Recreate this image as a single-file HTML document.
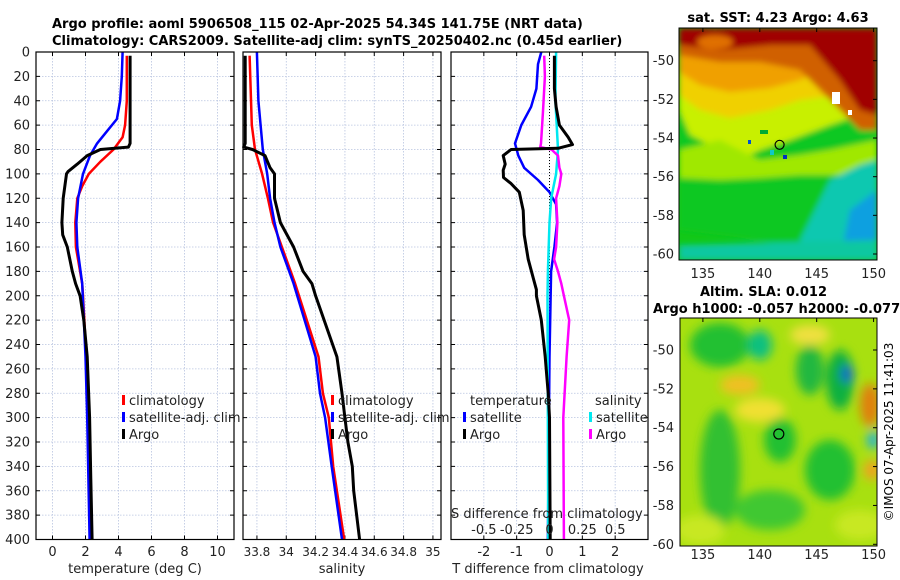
<!DOCTYPE html>
<html><head><meta charset="utf-8"><style>
html,body{margin:0;padding:0;background:#fff;}
svg{display:block;font-family:"DejaVu Sans","Liberation Sans",sans-serif;}
</style></head><body>
<svg id="fig" width="900" height="580" viewBox="0 0 900 580" xmlns="http://www.w3.org/2000/svg">
<defs>
<filter id="blur3" x="-10%" y="-10%" width="120%" height="120%"><feGaussianBlur stdDeviation="3"/></filter>
<filter id="blur5" x="-10%" y="-10%" width="120%" height="120%"><feGaussianBlur stdDeviation="5"/></filter>
<clipPath id="clipTop"><rect x="679" y="28" width="198" height="232"/></clipPath>
<clipPath id="clipBot"><rect x="680" y="318" width="197" height="228"/></clipPath>
</defs>
<text x="52" y="28" font-size="13" font-weight="bold">Argo profile: aoml 5906508_115 02-Apr-2025 54.34S 141.75E (NRT data)</text>
<text x="52" y="45" font-size="13" font-weight="bold">Climatology: CARS2009. Satellite-adj clim: synTS_20250402.nc (0.45d earlier)</text>

<!-- top map -->
<g>
<g clip-path="url(#clipTop)">
<rect x="679" y="28" width="198" height="232" fill="#12c818"/>
<g filter="url(#blur3)">
<polygon points="679,28 877,28 877,260 840,260 800,250 760,240 679,230" fill="#10c820"/>
<polygon points="679,110 690,135 720,150 740,160 760,150 790,140 830,125 860,115 877,105 877,28 679,28" fill="#c8f000"/>
<polygon points="679,95 700,110 730,118 770,110 800,100 840,95 877,90 877,28 679,28" fill="#f0d000"/>
<polygon points="679,72 700,85 730,92 770,88 800,80 830,65 877,55 877,28 679,28" fill="#f0a000"/>
<polygon points="679,55 720,62 760,62 800,70 830,100 860,130 877,130 877,28 679,28" fill="#d06000"/>
<polygon points="679,45 720,50 770,45 810,45 840,80 860,110 877,115 877,28 679,28" fill="#a00000"/>
<ellipse cx="715" cy="42" rx="18" ry="7" fill="#e07000"/>
<polygon points="679,150 720,140 760,160 800,155 830,150 877,140 877,170 840,175 800,175 760,178 720,180 679,178" fill="#a0e800"/>
<polygon points="830,180 860,165 877,160 877,260 810,260 800,240 815,210" fill="#10c8b0"/>
<polygon points="850,210 877,190 877,260 840,260" fill="#10a0e0"/>
<polygon points="679,245 877,240 877,260 679,260" fill="#10c8a0"/>
</g>
<rect x="760" y="130" width="8" height="4" fill="#0a3" /><rect x="770" y="150" width="4" height="5" fill="#10c8c8"/>
<rect x="832" y="92" width="8" height="12" fill="#fff"/><rect x="848" y="110" width="4" height="5" fill="#fff"/>
<rect x="783" y="155" width="4" height="4" fill="#0030c0"/><rect x="748" y="140" width="3" height="4" fill="#0050d0"/>
</g>
<rect x="679" y="28" width="198" height="232" fill="none" stroke="#000" stroke-width="1"/>
<circle cx="779.6" cy="144.8" r="4.5" fill="none" stroke="#000" stroke-width="1.2"/>
</g>
<text x="778" y="22" font-size="13" font-weight="bold" text-anchor="middle">sat. SST: 4.23 Argo: 4.63</text>

<!-- bottom map -->
<g>
<g clip-path="url(#clipBot)">
<rect x="680" y="318" width="197" height="228" fill="#a8e010"/>
<g filter="url(#blur5)">
<ellipse cx="720" cy="345" rx="30" ry="22" fill="#20c030"/>
<ellipse cx="760" cy="345" rx="12" ry="15" fill="#10c080"/>
<ellipse cx="810" cy="370" rx="14" ry="25" fill="#20b840"/>
<ellipse cx="840" cy="380" rx="14" ry="30" fill="#10b040"/>
<ellipse cx="847" cy="374" rx="6" ry="9" fill="#1060d0"/>
<ellipse cx="780" cy="440" rx="16" ry="22" fill="#20c030"/>
<ellipse cx="830" cy="470" rx="25" ry="30" fill="#20c030"/>
<ellipse cx="720" cy="470" rx="20" ry="60" fill="#30c030"/>
<ellipse cx="770" cy="510" rx="35" ry="20" fill="#40c830"/>
<ellipse cx="760" cy="410" rx="25" ry="12" fill="#f0e030"/>
<ellipse cx="740" cy="385" rx="20" ry="10" fill="#f0c020"/>
<ellipse cx="810" cy="335" rx="20" ry="10" fill="#f0e040"/>
<ellipse cx="870" cy="405" rx="10" ry="22" fill="#e08010"/>
<ellipse cx="873" cy="440" rx="6" ry="9" fill="#20b0e0"/>
<ellipse cx="872" cy="470" rx="8" ry="10" fill="#f0a020"/>
<ellipse cx="700" cy="530" rx="25" ry="15" fill="#c8e820"/>
<ellipse cx="860" cy="525" rx="25" ry="15" fill="#c8e820"/>
</g>
</g>
<rect x="680" y="318" width="197" height="228" fill="none" stroke="#000" stroke-width="1"/>
<circle cx="778.8" cy="434" r="5" fill="none" stroke="#000" stroke-width="1.2"/>
</g>
<text x="700" y="296" font-size="13" font-weight="bold">Altim. SLA: 0.012</text>
<text x="653" y="313" font-size="13" font-weight="bold">Argo h1000: -0.057 h2000: -0.077</text>
<text transform="translate(893,432) rotate(-90)" font-size="12" text-anchor="middle">©IMOS 07-Apr-2025 11:41:03</text>

<g id="axes"></g>
</svg>
<script>
// ---------- data ----------
var depthTicks = [0,20,40,60,80,100,120,140,160,180,200,220,240,260,280,300,320,340,360,380,400];
var tempTicks = [0,2,4,6,8,10];
var salTicks = [33.8,34,34.2,34.4,34.6,34.8,35];
var salTickLabels = ["33.8","34","34.2","34.4","34.6","34.8","35"];
var tdiffTicks = [-2,-1,0,1,2];
var sdiffTicks = [-0.5,-0.25,0,0.25,0.5];
var sdiffTickLabels = ["-0.5","-0.25","0","0.25","0.5"];
var latTicks = [-50,-52,-54,-56,-58,-60];
var lonTicks = [135,140,145,150];

var tArgoDepth = [3,20,40,60,75,78,80,85,92,98,100,120,140,150,160,180,190,200,220,250,300,350,400];
var tArgo      = [4.7,4.7,4.7,4.7,4.7,4.6,2.9,2.1,1.5,0.95,0.85,0.65,0.57,0.62,0.9,1.2,1.4,1.67,1.9,2.1,2.25,2.32,2.4];
var tClimDepth = [3,40,60,70,80,90,100,110,120,140,160,190,200,250,300,400];
var tClim      = [4.5,4.5,4.4,4.25,3.7,2.9,2.2,1.8,1.5,1.38,1.42,1.8,1.85,2.05,2.15,2.3];
var tSatDepth  = [0,20,40,55,65,75,85,100,120,140,160,190,250,300,400];
var tSat       = [4.25,4.2,4.1,3.9,3.3,2.7,2.27,1.85,1.55,1.45,1.5,1.8,2.0,2.1,2.25];

var sArgoDepth = [3,75,78,80,85,95,100,120,140,160,180,190,200,250,280,300,320,340,360,400];
var sArgo      = [33.72,33.72,33.71,33.77,33.855,33.89,33.92,33.92,33.96,34.05,34.115,34.175,34.2,34.345,34.38,34.4,34.42,34.45,34.46,34.5];
var sClimDepth = [3,60,80,100,120,140,160,190,250,280,300,340,400];
var sClim      = [33.75,33.765,33.787,33.835,33.875,33.91,33.97,34.06,34.22,34.25,34.29,34.32,34.395];
var sSatDepth  = [0,40,80,100,120,140,160,190,250,280,300,340,400];
var sSat       = [33.8,33.81,33.84,33.87,33.89,33.92,33.96,34.05,34.2,34.23,34.265,34.31,34.38];

var dtSatDepth = [0,10,30,45,60,75,85,95,105,115,125,140,160,180,250,400];
var dtSat      = [-0.25,-0.35,-0.4,-0.56,-0.86,-1.05,-0.95,-0.77,-0.35,0,0.2,0.23,0.15,0.05,0.0,-0.05];
var dtArgoDepth= [3,30,45,60,70,76,79,80,85,92,97,103,108,115,130,150,170,185,195,200,220,250,280,300,400];
var dtArgo     = [0.15,0.15,0.2,0.3,0.57,0.7,0.26,-1.17,-1.41,-1.35,-1.41,-1.4,-1.17,-0.92,-0.8,-0.77,-0.65,-0.5,-0.4,-0.4,-0.25,-0.13,-0.04,0,0.02];
var dsSatDepth = [0,40,80,100,120,140,180,200,400];
var dsSat      = [0.05,0.045,0.065,0.05,0.013,0,-0.012,-0.015,-0.01];
var dsArgoDepth= [3,20,50,75,78,80,85,95,100,110,120,140,160,170,180,190,200,220,250,300,400];
var dsArgo     = [-0.04,-0.035,-0.05,-0.065,-0.07,0.015,0.065,0.075,0.09,0.075,0.05,0.06,0.05,0.035,0.065,0.09,0.11,0.15,0.13,0.105,0.11];

// ---------- helpers ----------
var NS = "http://www.w3.org/2000/svg";
var root = document.getElementById('axes');
function mk(tag, attrs, parent){var e=document.createElementNS(NS,tag);for(var k in attrs)e.setAttribute(k,attrs[k]);(parent||root).appendChild(e);return e;}
var Y0 = 52, Y1 = 539.5;
function yD(d){return Y0 + d/400*(Y1-Y0);}
function lin(d0,d1,r0,r1){return function(v){return r0+(v-d0)/(d1-d0)*(r1-r0);};}
var xT = lin(-1,11,36,234);
var xS = lin(33.705,35.055,243,441);
var xDT = lin(-3,3,451,648);
var xDS = lin(-0.75,0.75,451,648);

function panel(name, x0, x1, gridXs, xf){
  var g = mk('g',{});
  
  
  depthTicks.forEach(function(d){
    var l = mk('line',{x1:x0,x2:x1,y1:yD(d),y2:yD(d),stroke:'#b8c4e0','stroke-width':0.8,'stroke-dasharray':'1.5,1.5'},g);
    
    
    mk('line',{x1:x0,x2:x0+4,y1:yD(d),y2:yD(d),stroke:'#000'},g);
    mk('line',{x1:x1-4,x2:x1,y1:yD(d),y2:yD(d),stroke:'#000'},g);
  });
  gridXs.forEach(function(v){
    var X = xf(v);
    var l = mk('line',{x1:X,x2:X,y1:Y0,y2:Y1,stroke:'#b8c4e0','stroke-width':0.8,'stroke-dasharray':'1.5,1.5'},g);
    
    
    mk('line',{x1:X,x2:X,y1:Y0,y2:Y0+4,stroke:'#000'},g);
    mk('line',{x1:X,x2:X,y1:Y1-4,y2:Y1,stroke:'#000'},g);
  });
  return g;
}
function frame(g,x0,x1){
  var r = mk('rect',{x:x0,y:Y0,width:x1-x0,height:Y1-Y0,fill:'none',stroke:'#000','stroke-width':1.2},g);
  
  
}
function series(g, name, depths, vals, xf, color, w){
  var pts = depths.map(function(d,i){return xf(vals[i]).toFixed(1)+','+yD(d).toFixed(1);}).join(' ');
  var p = mk('polyline',{points:pts,fill:'none',stroke:color,'stroke-width':w,'stroke-linejoin':'round'},g);
  
  
}
function txt(g, name, x, y, s, size, anchor){
  var t = mk('text',{x:x,y:y,'font-size':size||13,'text-anchor':anchor||'start',fill:'#222'},g);
  t.textContent = s;
  
  
  return t;
}
function legendItem(g, name, x, y, color, label){
  var b = mk('rect',{x:x,y:y-10,width:3,height:10,fill:color},g);
  
  
  var t = txt(g, name, x+7, y, label, 13);
  
}

// ---------- panel 1: temperature ----------
var g1 = panel('temperature-panel',36,234,tempTicks,xT);
series(g1,'temp-climatology-line',tClimDepth,tClim,xT,'#ff0000',2.5);
series(g1,'temp-satellite-line',tSatDepth,tSat,xT,'#0000ff',2.5);
series(g1,'temp-argo-line',tArgoDepth,tArgo,xT,'#000000',3);
frame(g1,36,234);
depthTicks.forEach(function(d){ txt(g1,'depth-tick-label',30,yD(d)+4.5,String(d),13,'end'); });
tempTicks.forEach(function(v){ txt(g1,'temp-tick-label',xT(v),556,String(v),13,'middle'); });
txt(g1,'temp-x-axis-title',135,573,'temperature (deg C)',13,'middle');
legendItem(g1,'legend-climatology',122,405,'#ff0000','climatology');
legendItem(g1,'legend-satellite-adj',122,422,'#0000ff','satellite-adj. clim');
legendItem(g1,'legend-argo',122,439,'#000000','Argo');

// ---------- panel 2: salinity ----------
var g2 = panel('salinity-panel',243,441,salTicks,xS);
series(g2,'sal-climatology-line',sClimDepth,sClim,xS,'#ff0000',2.5);
series(g2,'sal-satellite-line',sSatDepth,sSat,xS,'#0000ff',2.5);
series(g2,'sal-argo-line',sArgoDepth,sArgo,xS,'#000000',3);
frame(g2,243,441);
salTicks.forEach(function(v,i){ txt(g2,'sal-tick-label',xS(v),556,salTickLabels[i],12,'middle'); });
txt(g2,'sal-x-axis-title',342,573,'salinity',13,'middle');
legendItem(g2,'legend-sal-climatology',331,405,'#ff0000','climatology');
legendItem(g2,'legend-sal-satellite-adj',331,422,'#0000ff','satellite-adj. clim');
legendItem(g2,'legend-sal-argo',331,439,'#000000','Argo');

// ---------- panel 3: differences ----------
var g3 = panel('difference-panel',451,648,tdiffTicks,xDT);
var zl = mk('line',{x1:xDT(0),x2:xDT(0),y1:Y0,y2:Y1,stroke:'#000','stroke-width':1,'stroke-dasharray':'1,2'},g3);


series(g3,'dtemp-satellite-line',dtSatDepth,dtSat,xDT,'#0000ff',2.5);
series(g3,'dsal-satellite-line',dsSatDepth,dsSat,xDS,'#00e8f0',2.5);
series(g3,'dsal-argo-line',dsArgoDepth,dsArgo,xDS,'#ff00ff',2.5);
series(g3,'dtemp-argo-line',dtArgoDepth,dtArgo,xDT,'#000000',3);
frame(g3,451,648);
tdiffTicks.forEach(function(v){ txt(g3,'tdiff-tick-label',xDT(v),556,String(v),13,'middle'); });
txt(g3,'tdiff-x-axis-title',548,573,'T difference from climatology',13,'middle');
txt(g3,'sdiff-axis-title',451,518,'S difference from climatology',13,'start');
sdiffTicks.forEach(function(v,i){ txt(g3,'sdiff-tick-label',xDS(v),534,sdiffTickLabels[i],13,'middle'); });
txt(g3,'legend-temperature-header',470,405,'temperature',13);
legendItem(g3,'legend-dtemp-satellite',463,422,'#0000ff','satellite');
legendItem(g3,'legend-dtemp-argo',463,439,'#000000','Argo');
txt(g3,'legend-salinity-header',595,405,'salinity',13);
legendItem(g3,'legend-dsal-satellite',589,422,'#00e8f0','satellite');
legendItem(g3,'legend-dsal-argo',589,439,'#ff00ff','Argo');

// ---------- map axes ----------
var gm = mk('g',{});


var lonX = lin(132.9,150.3,679,877);
var latTop = lin(-50,-60,60.7,254);
var latBot = lin(-50,-60,350,544.3);
latTicks.forEach(function(v){
  txt(gm,'sst-lat-tick-label',674,latTop(v)+4.5,String(v),13,'end');
  mk('line',{x1:873,x2:877,y1:latTop(v),y2:latTop(v),stroke:'#000'},gm);
  txt(gm,'sla-lat-tick-label',674,latBot(v)+4.5,String(v),13,'end');
  mk('line',{x1:873,x2:877,y1:latBot(v),y2:latBot(v),stroke:'#000'},gm);
});
lonTicks.forEach(function(v){
  txt(gm,'sst-lon-tick-label',lonX(v),278,String(v),13,'middle');
  mk('line',{x1:lonX(v),x2:lonX(v),y1:28,y2:32,stroke:'#000'},gm);
  txt(gm,'sla-lon-tick-label',lonX(v),559,String(v),13,'middle');
  mk('line',{x1:lonX(v),x2:lonX(v),y1:318,y2:322,stroke:'#000'},gm);
});
</script>
</body></html>
